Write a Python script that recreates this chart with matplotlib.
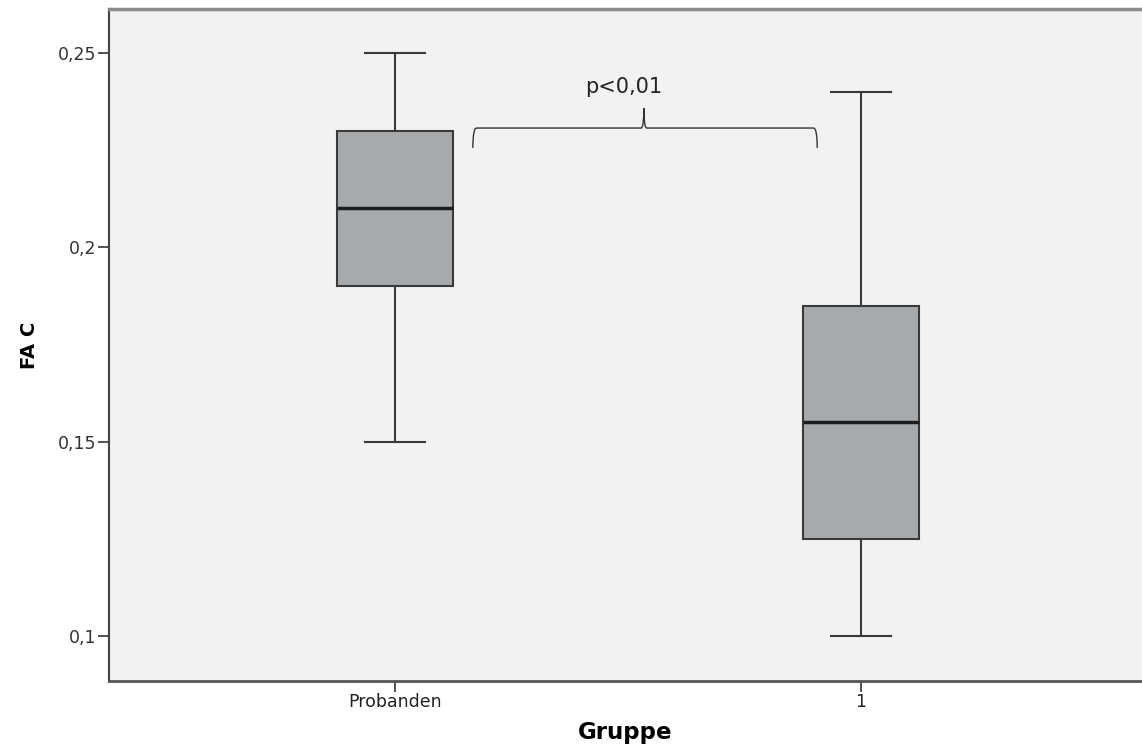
import numpy as np
import matplotlib.pyplot as plt
from matplotlib.path import Path
from matplotlib.patches import PathPatch

# box statistics
groups = ["Probanden", "1"]
whisker_low = [0.15, 0.10]
q1 = [0.19, 0.125]
median = [0.21, 0.155]
q3 = [0.23, 0.185]
whisker_high = [0.25, 0.24]

p_label = "p<0,01"
y_ticks = [0.1, 0.15, 0.2, 0.25]
y_ticklabels = ["0,1", "0,15", "0,2", "0,25"]

plt.rcParams["font.family"] = ["DejaVu Sans"]

stats = []
for i, g in enumerate(groups):
    stats.append({"label": g, "whislo": whisker_low[i], "q1": q1[i],
                  "med": median[i], "q3": q3[i], "whishi": whisker_high[i],
                  "fliers": []})

fig = plt.figure(figsize=(11.42, 7.49), dpi=100)
ax = fig.add_axes([0.0954, 0.0908, 0.9046, 0.897])
ax.set_facecolor("#f2f2f2")

line_col = "#3a3a3a"
ax.bxp(stats, positions=[1, 2], widths=0.25, capwidths=0.127,
       patch_artist=True, showfliers=False,
       boxprops=dict(facecolor="#a7aaad", edgecolor=line_col, linewidth=1.5),
       medianprops=dict(color="#1e1e1e", linewidth=2.5),
       whiskerprops=dict(color=line_col, linewidth=1.5),
       capprops=dict(color=line_col, linewidth=1.5))

ax.set_xlim(0.386, 2.603)
ax.set_ylim(0.0884, 0.2613)

ax.set_yticks(y_ticks)
ax.set_yticklabels(y_ticklabels, fontsize=12.5, color="#333333")
ax.set_xticks([1, 2])
ax.set_xticklabels(groups, fontsize=12.5, color="#222222")
ax.tick_params(direction="out", length=8, width=1.3, color="#444444", pad=1)

ax.spines["right"].set_visible(False)
ax.spines["left"].set_color("#444444")
ax.spines["left"].set_linewidth(1.5)
ax.spines["bottom"].set_color("#555555")
ax.spines["bottom"].set_linewidth(2)
ax.spines["top"].set_color("#8c8c8c")
ax.spines["top"].set_linewidth(2.5)

ax.set_xlabel("Gruppe", fontsize=16.5, fontweight="bold", labelpad=7)
ax.set_ylabel("FA C", fontsize=14, fontweight="bold", labelpad=14)

# curly brace with the significance label
x0, x1, xm = 1.167, 1.906, 1.534
yb, yl, yp = 0.2256, 0.2307, 0.2358
dx = 0.008
verts = [(x0, yb), (x0, yl), (x0 + dx, yl),
         (xm - 0.006, yl),
         (xm, yl), (xm, yp),
         (xm, yl), (xm + 0.006, yl),
         (x1 - dx, yl),
         (x1, yl), (x1, yb)]
codes = [Path.MOVETO, Path.CURVE3, Path.CURVE3,
         Path.LINETO,
         Path.CURVE3, Path.CURVE3,
         Path.CURVE3, Path.CURVE3,
         Path.LINETO,
         Path.CURVE3, Path.CURVE3]
ax.add_patch(PathPatch(Path(verts, codes), facecolor="none",
                       edgecolor="#333333", linewidth=1))
ax.text(1.49, 0.2412, p_label, fontsize=15, ha="center", va="center",
        color="#222222")

fig.savefig("out.png", dpi=100)
